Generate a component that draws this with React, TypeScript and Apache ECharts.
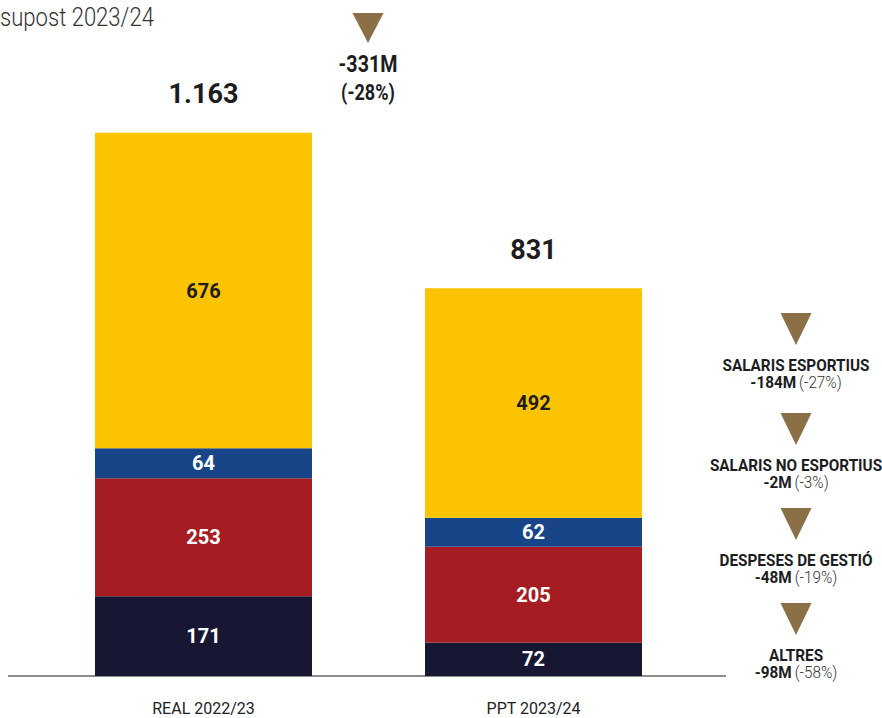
import React, { useEffect, useRef } from "react";
import * as echarts from "echarts";

const categories = ["REAL 2022/23", "PPT 2023/24"];
const altres = [171, 72];
const despesesGestio = [253, 205];
const salarisNoEsportius = [64, 62];
const salarisEsportius = [676, 492];
const totalLabels = ["1.163", "831"];

const changeTitles = ["SALARIS ESPORTIUS", "SALARIS NO ESPORTIUS", "DESPESES DE GESTIÓ", "ALTRES"];
const changeValues = ["-184M", "-2M", "-48M", "-98M"];
const changePcts = ["(-27%)", "(-3%)", "(-19%)", "(-58%)"];
const totalChange = "-331M";
const totalChangePct = "(-28%)";
const titleText = "supost 2023/24";

const FONT = 'Roboto, "Liberation Sans", sans-serif';
const GOLD = "#8a6f47";
const DARK = "#1d1d1f";

export default function App() {
  const ref = useRef<HTMLDivElement>(null);
  useEffect(() => {
    if (!ref.current) return;
    const chart = echarts.init(ref.current, null, { renderer: "svg" });
    const totals = categories.map(
      (_, i) => altres[i] + despesesGestio[i] + salarisNoEsportius[i] + salarisEsportius[i]
    );
    const segLabel = (color: string) => ({
      show: true,
      position: "inside",
      color,
      fontFamily: FONT,
      fontWeight: "bold",
      fontSize: 20,
    });
    const mk = (name: string, data: number[], color: string, lc: string) => ({
      name,
      type: "bar",
      stack: "t",
      data,
      barWidth: 217,
      itemStyle: { color },
      label: segLabel(lc),
    });
    const tri = (cx: number, top: number, w: number, h: number) => ({
      type: "polygon",
      shape: { points: [[cx - w / 2, top], [cx + w / 2, top], [cx, top + h]] },
      style: { fill: GOLD },
    });
    const annTops = [313, 413, 508, 603];
    const graphics: any[] = [
      {
        type: "text",
        x: 0,
        y: 17,
        scaleX: 0.85,
        style: {
          text: titleText,
          fontFamily: FONT,
          fontWeight: 300,
          fontSize: 26,
          fill: "#333",
          align: "left",
          verticalAlign: "middle",
        },
      },
      {
        type: "line",
        shape: { x1: 8, y1: 676, x2: 726, y2: 676 },
        style: { stroke: "#666", lineWidth: 1.5 },
      },
      tri(368, 13, 31, 30),
      {
        type: "text",
        x: 368,
        y: 64,
        scaleX: 0.82,
        style: {
          text: totalChange,
          fontFamily: FONT,
          fontWeight: "bold",
          fontSize: 24,
          lineHeight: 24,
          fill: DARK,
          align: "center",
          verticalAlign: "middle",
        },
      },
      {
        type: "text",
        x: 368,
        y: 92,
        scaleX: 0.82,
        style: {
          text: totalChangePct,
          fontFamily: FONT,
          fontWeight: "bold",
          fontSize: 22,
          lineHeight: 22,
          fill: DARK,
          align: "center",
          verticalAlign: "middle",
        },
      },
    ];
    changeTitles.forEach((t, i) => {
      const top = annTops[i];
      graphics.push(tri(796, top, 31, 32));
      graphics.push({
        type: "text",
        x: 796,
        y: top + 52,
        scaleX: 0.9,
        style: {
          text: t,
          fontFamily: FONT,
          fontWeight: "bold",
          fontSize: 17,
          lineHeight: 15,
          fill: DARK,
          align: "center",
          verticalAlign: "middle",
        },
      });
      graphics.push({
        type: "text",
        x: 796,
        y: top + 69,
        scaleX: 0.9,
        style: {
          text: `{b|${changeValues[i]}} {n|${changePcts[i]}}`,
          align: "center",
          verticalAlign: "middle",
          rich: {
            b: { fontFamily: FONT, fontWeight: "bold", fontSize: 17, lineHeight: 15, fill: DARK },
            n: { fontFamily: FONT, fontWeight: 300, fontSize: 17, lineHeight: 15, fill: "#333" },
          },
        },
      });
    });
    chart.setOption({
      animation: false,
      grid: { left: 38.5, right: 882 - 698.5, top: 116, bottom: 42 },
      xAxis: {
        type: "category",
        data: categories,
        axisLine: { show: false },
        axisTick: { show: false },
        axisLabel: { margin: 24, fontFamily: FONT, fontSize: 16, color: "#222" },
      },
      yAxis: {
        type: "value",
        min: 0,
        max: 1200,
        show: false,
        splitLine: { show: false },
      },
      series: [
        mk("Altres", altres, "#181733", "#fff"),
        mk("Despeses de gestió", despesesGestio, "#a51d22", "#fff"),
        mk("Salaris no esportius", salarisNoEsportius, "#174588", "#fff"),
        mk("Salaris esportius", salarisEsportius, "#fcc400", DARK),
        {
          name: "Total",
          type: "line",
          data: totals,
          symbol: "circle",
          symbolSize: 2,
          itemStyle: { color: "rgba(0,0,0,0)" },
          lineStyle: { width: 0, color: "rgba(0,0,0,0)" },
          label: {
            show: true,
            position: "top",
            distance: 24,
            formatter: (p: any) => totalLabels[p.dataIndex],
            fontFamily: FONT,
            fontWeight: "bold",
            fontSize: 27,
            color: DARK,
            opacity: 1,
          },
          z: 10,
        },
      ],
      graphic: graphics,
    });
    return () => chart.dispose();
  }, []);
  return (
    <div
      ref={ref}
      style={{ position: "absolute", left: 0, top: 0, width: 882, height: 718 }}
    />
  );
}
